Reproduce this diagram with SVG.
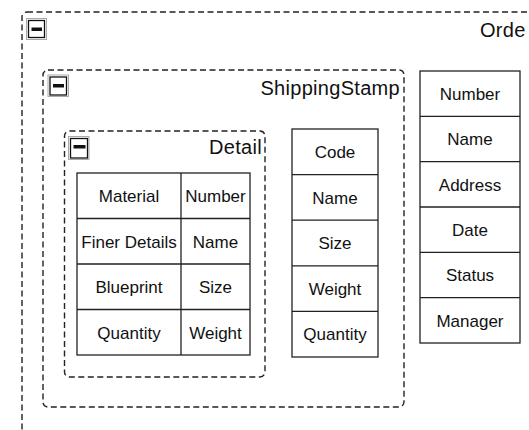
<svg xmlns="http://www.w3.org/2000/svg" width="529" height="430" viewBox="0 0 529 430">
<style>
.grp{fill:none;stroke:#222;stroke-width:1.4;stroke-dasharray:6 3.5}
.cell{fill:#fff;stroke:#222;stroke-width:1.3}
.ic-o{fill:none;stroke:#aaa;stroke-width:1}
.ic-i{fill:#fff;stroke:#111;stroke-width:1.3}
.bar{fill:#111}
.ttl{font-family:"Liberation Sans",Arial,sans-serif;font-size:20px;letter-spacing:0.3px;fill:#111}
.t{font-family:"Liberation Sans",Arial,sans-serif;font-size:17px;fill:#111;text-anchor:middle}
</style>
<rect width="529" height="430" fill="#fff"/>
<g id="Order">
<rect class="grp" x="22" y="12" width="640" height="520" rx="5"/>
<rect class="ic-o" x="26.5" y="18.5" width="20" height="21"/>
<rect class="ic-i" x="28.5" y="20.5" width="16" height="17"/>
<rect class="bar" x="31.5" y="27.5" width="10.5" height="3.5"/>
<text class="ttl" x="480" y="37">Orde</text>
</g>
<g id="ShippingStamp">
<rect class="grp" x="43" y="70" width="361" height="337" rx="5"/>
<rect class="ic-o" x="48" y="75" width="20.5" height="21.5"/>
<rect class="ic-i" x="50" y="77" width="16.5" height="18"/>
<rect class="bar" x="53" y="84" width="11" height="3.5"/>
<text class="ttl" x="400" y="95" text-anchor="end">ShippingStamp</text>
</g>
<g id="Detail">
<rect class="grp" x="64.5" y="131" width="200.5" height="246" rx="5"/>
<rect class="ic-o" x="68.5" y="136.5" width="20.5" height="23"/>
<rect class="ic-i" x="70.5" y="138.5" width="17" height="19.5"/>
<rect class="bar" x="73.5" y="145" width="12" height="3.5"/>
<text class="ttl" x="262" y="154" text-anchor="end">Detail</text>
</g>
<g id="DetailTable">
<rect class="cell" x="77" y="173" width="173" height="182"/>
<path d="M181 173V355M77 218.5H250M77 264H250M77 309.5H250" stroke="#222" stroke-width="1.3" fill="none"/>
<text class="t" x="129" y="202">Material</text>
<text class="t" x="215.5" y="202">Number</text>
<text class="t" x="129" y="247.5">Finer Details</text>
<text class="t" x="215.5" y="247.5">Name</text>
<text class="t" x="129" y="293">Blueprint</text>
<text class="t" x="215.5" y="293">Size</text>
<text class="t" x="129" y="338.5">Quantity</text>
<text class="t" x="215.5" y="338.5">Weight</text>
</g>
<g id="ShippingTable">
<rect class="cell" x="292" y="129" width="86" height="228"/>
<path d="M292 174.6H378M292 220.2H378M292 265.8H378M292 311.4H378" stroke="#222" stroke-width="1.3" fill="none"/>
<text class="t" x="335" y="158">Code</text>
<text class="t" x="335" y="203.6">Name</text>
<text class="t" x="335" y="249.2">Size</text>
<text class="t" x="335" y="294.8">Weight</text>
<text class="t" x="335" y="340.4">Quantity</text>
</g>
<g id="OrderTable">
<rect class="cell" x="420" y="71" width="100" height="272"/>
<path d="M420 116.3H520M420 161.7H520M420 207H520M420 252.3H520M420 297.7H520" stroke="#222" stroke-width="1.3" fill="none"/>
<text class="t" x="470" y="100">Number</text>
<text class="t" x="470" y="145">Name</text>
<text class="t" x="470" y="190.5">Address</text>
<text class="t" x="470" y="236">Date</text>
<text class="t" x="470" y="281">Status</text>
<text class="t" x="470" y="326.5">Manager</text>
</g>
<g id="connectors"/>
</svg>
